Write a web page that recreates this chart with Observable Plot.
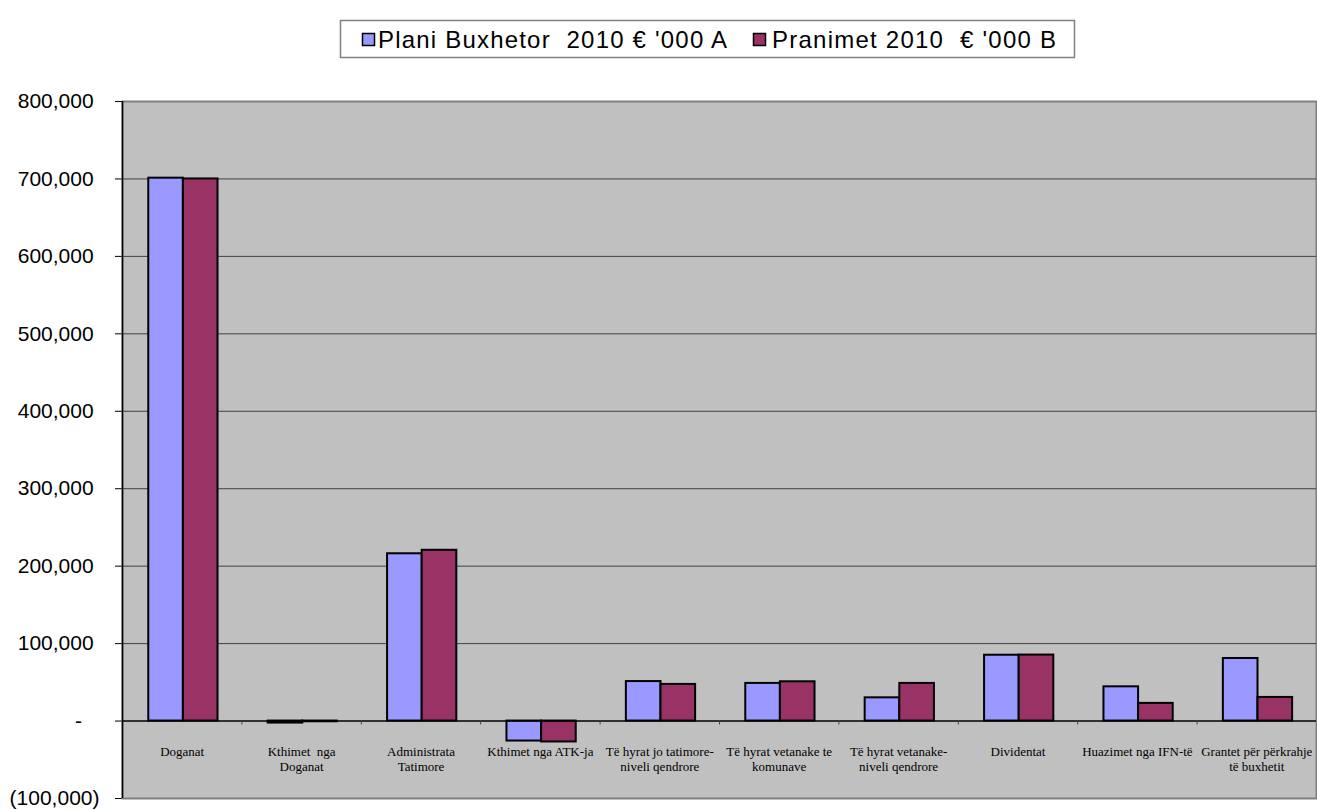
<!DOCTYPE html>
<html>
<head>
<meta charset="utf-8">
<script src="https://cdn.jsdelivr.net/npm/d3@7"></script>
<script src="https://cdn.jsdelivr.net/npm/@observablehq/plot@0.6"></script>
<style>
  body { margin: 0; background: #fff; }
  svg { display: block; }
</style>
</head>
<body>
<div id="legend"></div>
<div id="chart"></div>
<script>
const categories = [
  "Doganat",
  "Kthimet  nga\nDoganat",
  "Administrata\nTatimore",
  "Kthimet nga ATK-ja",
  "Të hyrat jo tatimore-\nniveli qendrore",
  "Të hyrat vetanake te\nkomunave",
  "Të hyrat vetanake-\nniveli qendrore",
  "Dividentat",
  "Huazimet nga IFN-të",
  "Grantet për përkrahje\ntë buxhetit"
];
const seriesNames = ["Plani Buxhetor  2010 € '000 A", "Pranimet 2010  € '000 B"];
const planiA    = [701000, -2600, 216000, -25800, 51000, 48600, 30000, 85000, 44200, 80800];
const pranimetB = [700000,  -900, 220500, -27000, 47300, 50700, 48600, 85200, 22800, 30500];
const yTicks = [-100000, 0, 100000, 200000, 300000, 400000, 500000, 600000, 700000, 800000];
const seriesColors = ["#9999FF", "#993366"];

// ---------- legend (above the plot SVG) ----------
const W = 1317;
const leg = d3.select("#legend").append("svg").attr("width", W).attr("height", 80);
leg.append("rect").attr("x", 340.5).attr("y", 20.5).attr("width", 734).attr("height", 37)
  .attr("fill", "#fff").attr("stroke", "#808080").attr("stroke-width", 1.5);
const legItems = [
  {sx: 362, tx: 378, tw: 349},
  {sx: 753, tx: 772, tw: 284}
];
legItems.forEach((it, k) => {
  leg.append("rect").attr("x", it.sx + 0.5).attr("y", 33.5).attr("width", 12).attr("height", 12)
    .attr("fill", seriesColors[k]).attr("stroke", "#000").attr("stroke-width", 1.5);
  leg.append("text").attr("x", it.tx).attr("y", 48)
    .attr("font-family", "'Liberation Sans', Arial, sans-serif").attr("font-size", 24)
    .style("white-space", "pre")
    .attr("textLength", it.tw).attr("lengthAdjust", "spacing")
    .text(seriesNames[k]);
});

// ---------- data rows ----------
const rows = categories.flatMap((c, i) => [
  {cat: c, i, s: 0, value: planiA[i]},
  {cat: c, i, s: 1, value: pranimetB[i]}
]);
const barStart = 0.22, barW = 0.29;
const boundaries = d3.range(1, categories.length);

const fmt = d3.format(",");
const yFormat = d => d === 0 ? "-\u2007\u2008" : d < 0 ? "(" + fmt(-d) + ")" : fmt(d) + "\u2008";

const chart = Plot.plot({
  width: W,
  height: 730,
  marginTop: 21,
  marginBottom: 12,
  marginLeft: 122,
  marginRight: 1,
  style: {fontFamily: "'Liberation Sans', Arial, sans-serif", fontSize: "21px", color: "#000", background: "#fff"},
  x: {domain: [0, categories.length], axis: null},
  y: {
    domain: [-100000, 800000],
    ticks: yTicks,
    tickFormat: yFormat,
    tickSize: 7,
    tickPadding: 16,
    label: null
  },
  marks: [
    Plot.frame({fill: "#C0C0C0", stroke: "#808080", strokeWidth: 2}),
    Plot.ruleY(yTicks.filter(t => t > 0 && t < 800000), {stroke: "#404040", strokeWidth: 1}),
    Plot.rectY(rows, {
      x1: d => d.i + barStart + d.s * barW,
      x2: d => d.i + barStart + (d.s + 1) * barW,
      y1: 0,
      y2: "value",
      fill: d => seriesColors[d.s],
      stroke: "#000",
      strokeWidth: 2
    }),
    Plot.ruleY([0], {stroke: "#000", strokeWidth: 1.5}),
    Plot.ruleX(boundaries, {x: d => d, y1: 0, y2: -5000, stroke: "#404040", strokeWidth: 1}),
    Plot.ruleX([0], {stroke: "#000", strokeWidth: 1.5}),
    Plot.text(categories, {
      x: (d, i) => i + 0.5,
      y: 0,
      text: d => d,
      lineAnchor: "top",
      dy: 24,
      lineHeight: 1.15,
      fontFamily: "'Liberation Serif', 'Times New Roman', serif",
      fontSize: 13,
      fill: "#000"
    })
  ]
});
document.getElementById("chart").appendChild(chart);
</script>
</body>
</html>
